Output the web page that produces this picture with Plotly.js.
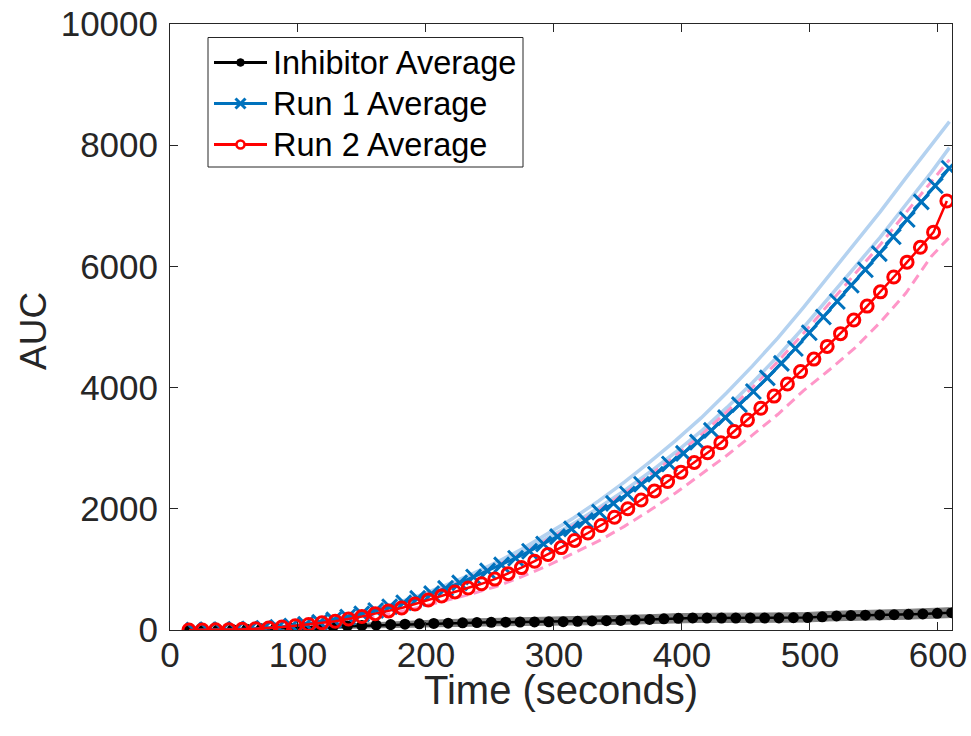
<!DOCTYPE html>
<html>
<head>
<meta charset="utf-8">
<script src="https://cdn.plot.ly/plotly-3.0.1.min.js"></script>
<style>html,body{margin:0;padding:0;background:#fff;}#chart{width:971px;height:736px;}</style>
</head>
<body>
<div id="chart"></div>
<script>
// ---- Data ----
const inhibitorTime = [15.0,26.2,37.5,48.7,60.0,71.2,82.4,93.7,104.9,116.2,127.4,138.6,149.9,161.1,172.4,183.6,194.8,206.1,217.3,228.6,239.8,251.0,262.3,273.5,284.8,296.0,307.2,318.5,329.7,341.0,352.2,363.4,374.7,385.9,397.2,408.4,419.6,430.9,442.1,453.4,464.6,475.8,487.1,498.3,509.6,520.8,532.0,543.3,554.5,565.8,577.0,588.2,599.5,610.7];
const inhibitorAvg = [0,2,5,9,14,20,27,34,42,50,58,66,74,82,89,96,102,108,113,118,122,126,129,132,134,136,138,144,150,154,158,165,175,185,193,200,198,198,198,198,198,200,204,206,218,232,240,245,248,252,258,265,275,286];

const run1Time = [18.6,29.5,40.5,51.4,62.3,73.3,84.2,95.1,106.0,117.0,127.9,138.8,149.8,160.7,171.6,182.6,193.5,204.4,215.3,226.3,237.2,248.1,259.1,270.0,280.9,291.9,302.8,313.7,324.6,335.6,346.5,357.4,368.4,379.3,390.2,401.2,412.1,423.0,434.0,444.9,455.8,466.7,477.7,488.6,499.5,510.5,521.4,532.3,543.3,554.2,565.1,576.0,587.0,597.9,608.8];
const run1Avg = [0,2,5,10,17,28,44,66,94,128,168,214,266,322,384,450,522,600,686,778,875,975,1075,1185,1300,1420,1540,1668,1805,1945,2090,2245,2405,2570,2740,2915,3100,3295,3505,3720,3935,4160,4400,4645,4905,5165,5420,5690,5945,6210,6490,6775,7065,7330,7619];

const run2Time = [14.8,25.2,35.6,46.0,56.4,66.8,77.1,87.5,97.9,108.3,118.7,129.1,139.5,149.9,160.3,170.7,181.0,191.4,201.8,212.2,222.6,233.0,243.4,253.8,264.2,274.6,284.9,295.3,305.7,316.1,326.5,336.9,347.3,357.7,368.1,378.5,388.8,399.2,409.6,420.0,430.4,440.8,451.2,461.6,472.0,482.4,492.7,503.1,513.5,523.9,534.3,544.7,555.1,565.5,575.9,586.3,596.6,607.0];
const run2Avg = [0,1,3,6,12,20,32,48,70,90,118,145,182,222,270,315,362,428,494,560,628,692,762,840,930,1030,1135,1245,1360,1478,1600,1725,1860,2000,2145,2295,2450,2605,2765,2925,3090,3275,3465,3660,3860,4060,4265,4470,4680,4890,5115,5345,5580,5825,6070,6315,6565,7079];

// individual runs (background lines)
const runTime = [15,35,55,75,95,115,135,155,175,195,215,235,255,275,295,315,335,355,375,395,415,435,455,475,495,515,535,555,575,595,609];
const run1A = [0,3,12,33,72,132,212,312,432,572,735,915,1115,1335,1585,1845,2130,2440,2775,3125,3500,3915,4355,4820,5325,5845,6370,6905,7460,8010,8390];
const run1B = [0,3,11,31,69,127,206,302,420,553,711,889,1080,1288,1514,1753,2018,2300,2607,2933,3281,3669,4079,4519,4992,5486,5990,6484,7022,7556,7960];
const run2A = [0,3,11,31,67,124,202,296,412,543,698,872,1059,1263,1485,1720,1979,2256,2557,2876,3218,3599,4000,4432,4896,5380,5875,6360,6887,7410,7760];
const run2B = [0,2,9,24,54,90,138,203,280,375,482,592,718,880,1060,1260,1470,1710,1975,2260,2575,2880,3215,3560,3950,4290,4650,5080,5560,6170,6480];
const inhibUpper = [0,10,25,42,62,82,102,122,140,156,170,182,192,200,206,214,226,236,252,270,278,278,278,280,286,306,322,330,340,355,368];
const inhibLower = [0,0,2,6,12,20,28,38,46,54,60,66,70,74,76,80,88,94,106,120,126,124,124,126,130,150,164,170,178,192,204];

const xTicks = [0,100,200,300,400,500,600];
const yTicks = [0,2000,4000,6000,8000,10000];
const legendNames = ['Inhibitor Average','Run 1 Average','Run 2 Average'];

// ---- Styling ----
const FONT = 'Liberation Sans, Arial, Helvetica, sans-serif';
const lightBlue = 'rgb(180,210,240)';
const pink = 'rgb(255,150,200)';
const gray = 'rgb(128,128,128)';
const blue = '#0072BD', red = '#FF0000', black = '#000000';

// plot area in pixels (for placing the legend / titles)
const PL = 170, PR = 952, PT = 24, PB = 630;
const px2x = p => (p - PL) / (PR - PL);
const px2y = p => (PB - p) / (PB - PT);

function bgLine(y, color, dash, w){
  return {x: runTime, y: y, type:'scatter', mode:'lines', showlegend:false, hoverinfo:'skip',
          line:{color:color, width:w, dash:dash}};
}

const traces = [
  {x: runTime, y: inhibLower, type:'scatter', mode:'lines', showlegend:false, line:{color:gray, width:1}},
  {x: runTime, y: inhibUpper, type:'scatter', mode:'lines', showlegend:false, fill:'tonexty', fillcolor:gray, line:{color:gray, width:1}},
  bgLine(run1A, lightBlue, 'solid', 3.5),
  bgLine(run1B, lightBlue, 'solid', 3.5),
  bgLine(run2A, pink, '10px,6px', 3),
  bgLine(run2B, pink, '10px,6px', 3),
  {x: inhibitorTime, y: inhibitorAvg, name: legendNames[0], type:'scatter', mode:'lines+markers', showlegend:false,
   line:{color:black, width:2.5}, marker:{symbol:'circle', size:11, color:black}},
  {x: run1Time, y: run1Avg, name: legendNames[1], type:'scatter', mode:'lines+markers', showlegend:false,
   line:{color:blue, width:3}, marker:{symbol:'x-thin', size:15, color:blue, line:{color:blue, width:3}}},
  {x: run2Time, y: run2Avg, name: legendNames[2], type:'scatter', mode:'lines+markers', showlegend:false,
   line:{color:red, width:2.5}, marker:{symbol:'circle-open', size:12, color:red, line:{width:3}}}
];

// ---- Legend (box, samples, labels) ----
const legRows = [62.5, 103.5, 144.5];
const legColors = [black, blue, red];
const shapes = [
  {type:'rect', xref:'paper', yref:'paper', x0:px2x(208), x1:px2x(523), y0:px2y(167), y1:px2y(37.5),
   line:{color:'#262626', width:1}, fillcolor:'#ffffff', layer:'above'}
];
const annotations = [];
legRows.forEach((ry, i) => {
  const c = legColors[i];
  shapes.push({type:'line', xref:'paper', yref:'paper', x0:px2x(214), x1:px2x(267), y0:px2y(ry), y1:px2y(ry),
               line:{color:c, width:3}, layer:'above'});
  const cx = px2x(240.5), cy = px2y(ry);
  if (i === 0) {
    shapes.push({type:'circle', xref:'paper', yref:'paper', xsizemode:'pixel', ysizemode:'pixel',
                 xanchor:cx, yanchor:cy, x0:-3.8, x1:3.8, y0:-3.8, y1:3.8,
                 fillcolor:c, line:{color:c, width:1}, layer:'above'});
  } else if (i === 1) {
    [[-5,-5,5,5],[-5,5,5,-5]].forEach(d => shapes.push({type:'line', xref:'paper', yref:'paper',
       xsizemode:'pixel', ysizemode:'pixel', xanchor:cx, yanchor:cy, x0:d[0], y0:d[1], x1:d[2], y1:d[3],
       line:{color:c, width:3}, layer:'above'}));
  } else {
    shapes.push({type:'circle', xref:'paper', yref:'paper', xsizemode:'pixel', ysizemode:'pixel',
                 xanchor:cx, yanchor:cy, x0:-4, x1:4, y0:-4, y1:4,
                 fillcolor:'#ffffff', line:{color:c, width:2.5}, layer:'above'});
  }
  annotations.push({xref:'paper', yref:'paper', x:px2x(271), y:px2y(ry), xanchor:'left', yanchor:'middle',
                    showarrow:false, text:legendNames[i], font:{family:FONT, size:32.5, color:'#000000'}});
});

// axis titles
annotations.push({xref:'paper', yref:'paper', x:0.5, y:px2y(690), xanchor:'center', yanchor:'middle',
                  showarrow:false, text:'Time (seconds)', font:{family:FONT, size:40, color:'#262626'}});
annotations.push({xref:'paper', yref:'paper', x:px2x(33), y:px2y(331), xanchor:'center', yanchor:'middle', textangle:-90,
                  showarrow:false, text:'AUC', font:{family:FONT, size:37, color:'#262626'}});

const axisCommon = {
  showline:true, linecolor:'#262626', linewidth:1, mirror:'ticks',
  ticks:'inside', ticklen:8, tickcolor:'#262626', tickwidth:1,
  showgrid:false, zeroline:false,
  tickfont:{family:FONT, size:35, color:'#262626'}
};

const layout = {
  width:971, height:736,
  margin:{l:PL, r:971-PR, t:PT, b:736-PB},
  paper_bgcolor:'#ffffff', plot_bgcolor:'#ffffff',
  showlegend:false,
  xaxis: Object.assign({}, axisCommon, {
    range:[0,611], tickvals:xTicks, ticktext:xTicks.map(String), ticklabelstandoff:-6
  }),
  yaxis: Object.assign({}, axisCommon, {
    range:[0,10000], tickvals:yTicks, ticktext:yTicks.map(String), ticklabelstandoff:4
  }),
  shapes: shapes,
  annotations: annotations
};

Plotly.newPlot('chart', traces, layout, {displayModeBar:false, staticPlot:true});
</script>
</body>
</html>
